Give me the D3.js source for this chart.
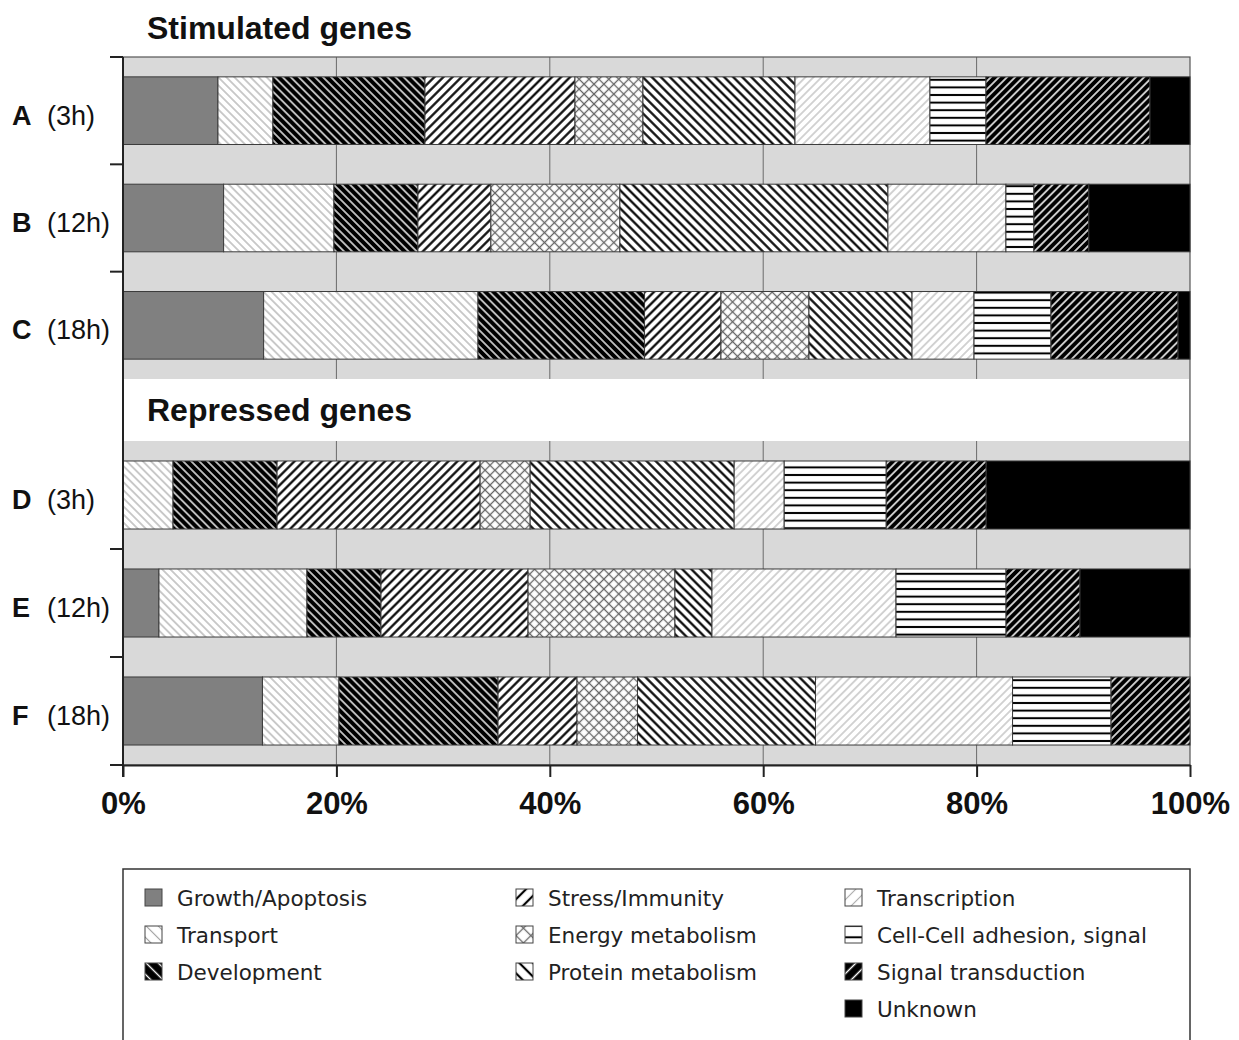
<!DOCTYPE html>
<html>
<head>
<meta charset="utf-8">
<script src="https://cdn.jsdelivr.net/npm/d3@7"></script>
<style>
  body { margin: 0; background: #fff; }
  svg { display: block; }
</style>
</head>
<body>
<svg id="chart" width="1239" height="1040"></svg>
<script>
// DATA (percent of genes per functional class)
var categories = ["Growth/Apoptosis", "Transport", "Development", "Stress/Immunity",
  "Energy metabolism", "Protein metabolism", "Transcription",
  "Cell-Cell adhesion, signal", "Signal transduction", "Unknown"];

var stimRows = ["A", "B", "C"];
var repRows = ["D", "E", "F"];
var rowTimes = ["(3h)", "(12h)", "(18h)", "(3h)", "(12h)", "(18h)"];

var rowA = [8.90, 5.15, 14.25, 14.06, 6.37, 14.25, 12.65, 5.25, 15.37, 3.75];
var rowB = [9.43, 10.34, 7.87, 6.84, 12.09, 25.12, 11.06, 2.62, 5.15, 9.48];
var rowC = [13.18, 20.09, 15.61, 7.16, 8.25, 9.66, 5.81, 7.21, 11.91, 1.12];
var rowD = [0, 4.69, 9.75, 19.03, 4.69, 19.12, 4.69, 9.56, 9.37, 19.10];
var rowE = [3.37, 13.87, 6.94, 13.78, 13.77, 3.47, 17.25, 10.31, 6.93, 10.31];
var rowF = [13.07, 7.17, 14.91, 7.40, 5.67, 16.68, 18.47, 9.23, 7.40, 0];

var xTicks = [0, 20, 40, 60, 80, 100];

// GLOBAL SETUP
var svg = d3.select('#chart');
var chartFont = '"Liberation Sans", Arial, Helvetica, sans-serif';
var legendFont = '"DejaVu Sans", Verdana, sans-serif';

var xScale = d3.scaleLinear().domain([0, 100]).range([123, 1190]);

// two blocks of rows, stimulated on top and repressed below
var yStim = d3.scaleBand().domain(stimRows).range([57, 379])
  .paddingInner(0.37).paddingOuter(0.185);
var yRep = d3.scaleBand().domain(repRows).range([441, 765])
  .paddingInner(0.37).paddingOuter(0.185);

// TABLE FOR d3.stack
var allRows = stimRows.concat(repRows);
var allValues = [rowA, rowB, rowC, rowD, rowE, rowF];
var table = allRows.map(function(r, i) {
  var o = { row: r, time: rowTimes[i] };
  categories.forEach(function(c, j) { o[c] = allValues[i][j]; });
  return o;
});
var series = d3.stack().keys(categories)(table);

function yOf(r) {
  return stimRows.indexOf(r) >= 0 ? yStim(r) : yRep(r);
}
function bandOf(r) {
  return stimRows.indexOf(r) >= 0 ? yStim.bandwidth() : yRep.bandwidth();
}

/////////////////////////////////////////////////////////
//                   PATTERNS
/////////////////////////////////////////////////////////
var defs = svg.append('defs');

// style of each class fill: solid or hatch
var fillStyles = [
  { type: 'solid', fill: '#808080' },
  { type: 'lines', bg: '#fff', color: '#a0a0a0', angle: -45, gap: 5.7, lw: 1.1 },
  { type: 'lines', bg: '#000', color: '#fff', angle: -45, gap: 5.7, lw: 1.4 },
  { type: 'lines', bg: '#fff', color: '#000', angle: 45, gap: 6.4, lw: 2.2 },
  { type: 'cross', bg: '#fff', color: '#666', angle: 45, gap: 7.0, lw: 1.3 },
  { type: 'lines', bg: '#fff', color: '#000', angle: -45, gap: 6.4, lw: 2.2 },
  { type: 'lines', bg: '#fff', color: '#b0b0b0', angle: 45, gap: 5.7, lw: 1.1 },
  { type: 'hlines', bg: '#fff', color: '#000', gap: 7.6, lw: 2 },
  { type: 'lines', bg: '#000', color: '#fff', angle: 45, gap: 5.7, lw: 1.5 },
  { type: 'solid', fill: '#000' }
];

function makePattern(id, st, k) {
  var g = st.gap * k;
  var p = defs.append('pattern')
    .attr('id', id)
    .attr('patternUnits', 'userSpaceOnUse')
    .attr('width', g)
    .attr('height', g);
  if (st.type !== 'hlines') p.attr('patternTransform', 'rotate(' + st.angle + ')');
  p.append('rect').attr('width', g).attr('height', g).attr('fill', st.bg);
  if (st.type === 'hlines') {
    p.append('line').attr('x1', 0).attr('x2', g).attr('y1', g / 2).attr('y2', g / 2)
      .attr('stroke', st.color).attr('stroke-width', st.lw);
  } else {
    p.append('line').attr('x1', g / 2).attr('x2', g / 2).attr('y1', 0).attr('y2', g)
      .attr('stroke', st.color).attr('stroke-width', st.lw);
    if (st.type === 'cross') {
      p.append('line').attr('x1', 0).attr('x2', g).attr('y1', g / 2).attr('y2', g / 2)
        .attr('stroke', st.color).attr('stroke-width', st.lw);
    }
  }
}

function fillFor(i, prefix) {
  var st = fillStyles[i];
  if (st.type === 'solid') return st.fill;
  return 'url(#' + prefix + i + ')';
}

fillStyles.forEach(function(st, i) {
  if (st.type === 'solid') return;
  makePattern('pat' + i, st, 1);
  makePattern('leg' + i, st, 1.5);
});

/////////////////////////////////////////////////////////
//                   PLOT AREA
/////////////////////////////////////////////////////////
var plotLeft = xScale(0), plotRight = xScale(100);
var plotTop = yStim.range()[0], plotBottom = yRep.range()[1];

svg.append('rect')
  .attr('x', plotLeft).attr('y', plotTop)
  .attr('width', plotRight - plotLeft).attr('height', plotBottom - plotTop)
  .attr('fill', '#d9d9d9');

// vertical gridlines
svg.append('g').selectAll('line')
  .data(xTicks.filter(function(t) { return t > 0 && t < 100; }))
  .enter().append('line')
  .attr('x1', function(d) { return xScale(d); })
  .attr('x2', function(d) { return xScale(d); })
  .attr('y1', plotTop).attr('y2', plotBottom)
  .attr('stroke', '#6a6a6a').attr('stroke-width', 1);

// white gap that holds the "Repressed genes" heading
svg.append('rect')
  .attr('x', plotLeft + 1).attr('y', yStim.range()[1])
  .attr('width', plotRight - plotLeft - 2).attr('height', yRep.range()[0] - yStim.range()[1])
  .attr('fill', '#fff');

// plot frame
svg.append('rect')
  .attr('x', plotLeft).attr('y', plotTop)
  .attr('width', plotRight - plotLeft).attr('height', plotBottom - plotTop)
  .attr('fill', 'none').attr('stroke', '#555').attr('stroke-width', 1.2);

// STACKED BARS
var layers = svg.append('g').selectAll('g')
  .data(series)
  .enter().append('g');

layers.selectAll('rect')
  .data(function(d) { return d.map(function(s) { return { s: s, idx: d.index }; }); })
  .enter().append('rect')
  .filter(function(d) { return d.s[1] - d.s[0] > 0; })
  .attr('x', function(d) { return xScale(d.s[0]); })
  .attr('width', function(d) { return xScale(d.s[1]) - xScale(d.s[0]); })
  .attr('y', function(d) { return yOf(d.s.data.row); })
  .attr('height', function(d) { return bandOf(d.s.data.row); })
  .attr('fill', function(d) { return fillFor(d.idx, 'pat'); })
  .attr('stroke', '#3a3a3a')
  .attr('stroke-width', 1);

/////////////////////////////////////////////////////////
//                   AXES
/////////////////////////////////////////////////////////
var xAxis = d3.axisBottom(xScale)
  .tickValues(xTicks)
  .tickFormat(function(d) { return d + '%'; })
  .tickSizeInner(12)
  .tickSizeOuter(0)
  .tickPadding(15);

var xAxisG = svg.append('g')
  .attr('transform', 'translate(0,' + plotBottom + ')')
  .call(xAxis);
xAxisG.select('.domain').attr('stroke', '#222').attr('stroke-width', 2);
xAxisG.selectAll('.tick line').attr('stroke', '#222').attr('stroke-width', 2);
xAxisG.selectAll('.tick text')
  .attr('fill', '#111')
  .style('font-family', chartFont)
  .style('font-weight', 'bold')
  .style('font-size', '31px');

// left axis line and row separator ticks
svg.append('line')
  .attr('x1', plotLeft).attr('x2', plotLeft)
  .attr('y1', plotTop).attr('y2', plotBottom + 12)
  .attr('stroke', '#222').attr('stroke-width', 2);

var sepTicks = [plotTop,
  yStim(stimRows[1]) - yStim.step() * 0.185, yStim(stimRows[2]) - yStim.step() * 0.185,
  yRep(repRows[1]) - yRep.step() * 0.185, yRep(repRows[2]) - yRep.step() * 0.185,
  plotBottom];
svg.append('g').selectAll('line')
  .data(sepTicks)
  .enter().append('line')
  .attr('x1', plotLeft - 13).attr('x2', plotLeft)
  .attr('y1', function(d) { return d; }).attr('y2', function(d) { return d; })
  .attr('stroke', '#222').attr('stroke-width', 2);

// ROW LABELS
var rowLab = svg.append('g').selectAll('g')
  .data(table)
  .enter().append('g')
  .attr('transform', function(d) {
    return 'translate(0,' + (yOf(d.row) + bandOf(d.row) / 2 + 14) + ')';
  })
  .style('font-family', chartFont)
  .style('font-size', '27px')
  .attr('fill', '#111');
rowLab.append('text').attr('x', 12).style('font-weight', 'bold').text(function(d) { return d.row; });
rowLab.append('text').attr('x', 47).text(function(d) { return d.time; });

// HEADINGS
svg.append('text')
  .attr('x', 147).attr('y', 39)
  .style('font-family', chartFont).style('font-weight', 'bold').style('font-size', '32px')
  .attr('fill', '#111')
  .text('Stimulated genes');
svg.append('text')
  .attr('x', 147).attr('y', 421)
  .style('font-family', chartFont).style('font-weight', 'bold').style('font-size', '32px')
  .attr('fill', '#111')
  .text('Repressed genes');

/////////////////////////////////////////////////////////
//                   LEGEND
/////////////////////////////////////////////////////////
svg.append('rect')
  .attr('x', plotLeft).attr('y', 869)
  .attr('width', plotRight - plotLeft).attr('height', 200)
  .attr('fill', 'none').attr('stroke', '#333').attr('stroke-width', 1.5);

var legCols = [145, 516, 845];
var legRows = [906, 943, 980, 1017];

var legItems = svg.append('g').selectAll('g')
  .data(categories)
  .enter().append('g')
  .attr('transform', function(d, i) {
    var col = i < 3 ? 0 : (i < 6 ? 1 : 2);
    var row = col === 2 ? i - 6 : i % 3;
    return 'translate(' + legCols[col] + ',' + legRows[row] + ')';
  });

legItems.append('rect')
  .attr('x', 0).attr('y', -17)
  .attr('width', 17).attr('height', 17)
  .attr('fill', function(d, i) { return fillFor(i, 'leg'); })
  .attr('stroke', '#444').attr('stroke-width', 1);

legItems.append('text')
  .attr('x', 32).attr('y', 0)
  .style('font-family', legendFont)
  .style('font-size', '21.5px')
  .attr('fill', '#222')
  .text(function(d) { return d; });
</script>
</body>
</html>
